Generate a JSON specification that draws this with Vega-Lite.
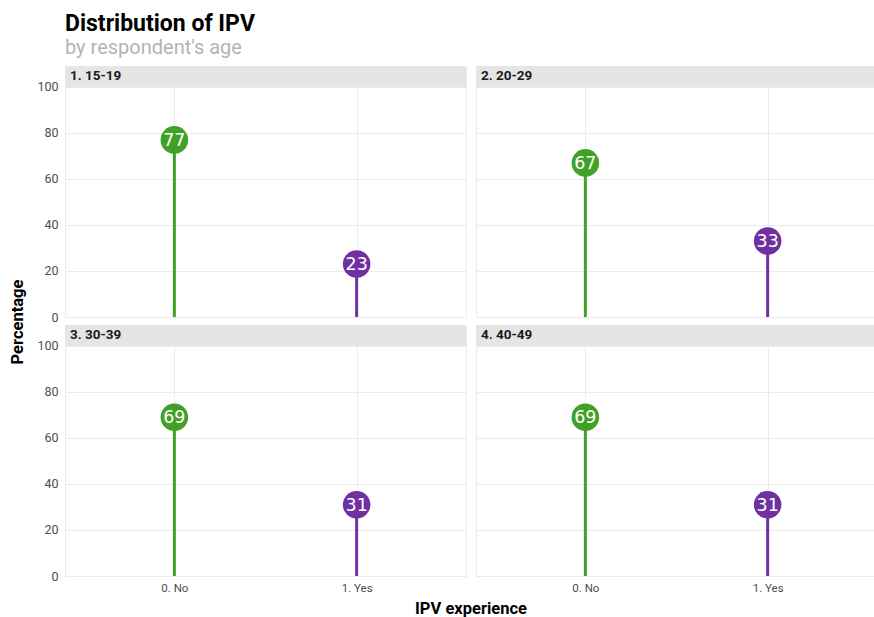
{
  "$schema": "https://vega.github.io/schema/vega-lite/v6.json",
  "background": "white",
  "padding": {"left": 9, "top": 12, "right": 0, "bottom": 0},
  "title": {
    "text": "Distribution of IPV",
    "subtitle": "by respondent's age",
    "anchor": "start",
    "frame": "group",
    "font": "Roboto",
    "fontSize": 23,
    "fontWeight": "bold",
    "color": "#000000",
    "subtitleFont": "Roboto",
    "subtitleFontSize": 20,
    "subtitleColor": "#b3b3b3",
    "subtitlePadding": 2,
    "offset": 8
  },
  "data": {
    "values": [
      {"age": "1. 15-19", "ipv": "0. No", "pct": 77},
      {"age": "1. 15-19", "ipv": "1. Yes", "pct": 23},
      {"age": "2. 20-29", "ipv": "0. No", "pct": 67},
      {"age": "2. 20-29", "ipv": "1. Yes", "pct": 33},
      {"age": "3. 30-39", "ipv": "0. No", "pct": 69},
      {"age": "3. 30-39", "ipv": "1. Yes", "pct": 31},
      {"age": "4. 40-49", "ipv": "0. No", "pct": 69},
      {"age": "4. 40-49", "ipv": "1. Yes", "pct": 31}
    ]
  },
  "transform": [
    {"calculate": "indexof(['1. 15-19', '2. 20-29'], datum.age) >= 0 ? 1 : 2", "as": "r"},
    {"calculate": "indexof(['1. 15-19', '3. 30-39'], datum.age) >= 0 ? 1 : 2", "as": "c"}
  ],
  "facet": {
    "row": {
      "field": "r",
      "type": "ordinal",
      "header": {
        "labels": false,
        "title": "Percentage",
        "titleFont": "Roboto",
        "titleFontWeight": "bold",
        "titleFontSize": 16.5,
        "titleColor": "#000000",
        "titlePadding": 0
      }
    },
    "column": {
      "field": "c",
      "type": "ordinal",
      "header": {
        "labels": false,
        "title": "IPV experience",
        "titleOrient": "bottom",
        "titleFont": "Roboto",
        "titleFontWeight": "bold",
        "titleFontSize": 16.5,
        "titleColor": "#000000",
        "titlePadding": -3
      }
    }
  },
  "spacing": {"row": 5, "column": 8},
  "spec": {
    "width": 401,
    "height": 251,
    "encoding": {
      "x": {
        "field": "ipv",
        "type": "nominal",
        "scale": {"type": "point", "padding": 0.6},
        "axis": {
          "title": null,
          "labelAngle": 0,
          "ticks": false,
          "domain": false,
          "grid": true,
          "gridColor": "#ebebeb",
          "labelColor": "#4d4d4d",
          "labelFont": "Roboto",
          "labelFontSize": 11.5,
          "labelPadding": 4
        }
      }
    },
    "layer": [
      {
        "transform": [{"filter": "datum.ipv == '0. No'"}],
        "mark": {"type": "rect", "color": "#e5e5e5"},
        "encoding": {
          "x": null,
          "y": {
            "datum": 100,
            "type": "quantitative",
            "scale": {"domain": [0, 109.13], "nice": false, "zero": true},
            "axis": {
              "title": null,
              "values": [0, 20, 40, 60, 80, 100],
              "ticks": false,
              "domain": false,
              "grid": true,
              "gridColor": "#ebebeb",
              "labelColor": "#4d4d4d",
              "labelFont": "Roboto",
              "labelFontSize": 12.5,
              "labelPadding": 6
            }
          },
          "y2": {"datum": 109.13}
        }
      },
      {
        "transform": [{"filter": "datum.ipv == '0. No'"}],
        "mark": {"type": "text", "align": "left", "baseline": "middle", "font": "Roboto", "fontWeight": "bold", "fontSize": 13.5, "color": "#1a1a1a", "dx": 5},
        "encoding": {
          "x": {"value": 0},
          "y": {"datum": 104.6, "type": "quantitative"},
          "text": {"field": "age"}
        }
      },
      {
        "mark": {"type": "rule", "strokeWidth": 3},
        "encoding": {
          "y": {"field": "pct", "type": "quantitative"},
          "y2": {"datum": 0},
          "color": {
            "field": "ipv",
            "type": "nominal",
            "scale": {"domain": ["0. No", "1. Yes"], "range": ["#41a026", "#7031a0"]},
            "legend": null
          }
        }
      },
      {
        "mark": {"type": "circle", "size": 760, "opacity": 1},
        "encoding": {
          "y": {"field": "pct", "type": "quantitative"},
          "color": {"field": "ipv", "type": "nominal", "legend": null}
        }
      },
      {
        "mark": {"type": "text", "color": "white", "font": "DejaVu Sans", "fontSize": 17.5, "baseline": "middle", "align": "center", "dy": 1},
        "encoding": {
          "y": {"field": "pct", "type": "quantitative"},
          "text": {"field": "pct", "type": "quantitative"}
        }
      }
    ]
  },
  "config": {
    "view": {"stroke": "#ebebeb"},
    "font": "Roboto"
  }
}
